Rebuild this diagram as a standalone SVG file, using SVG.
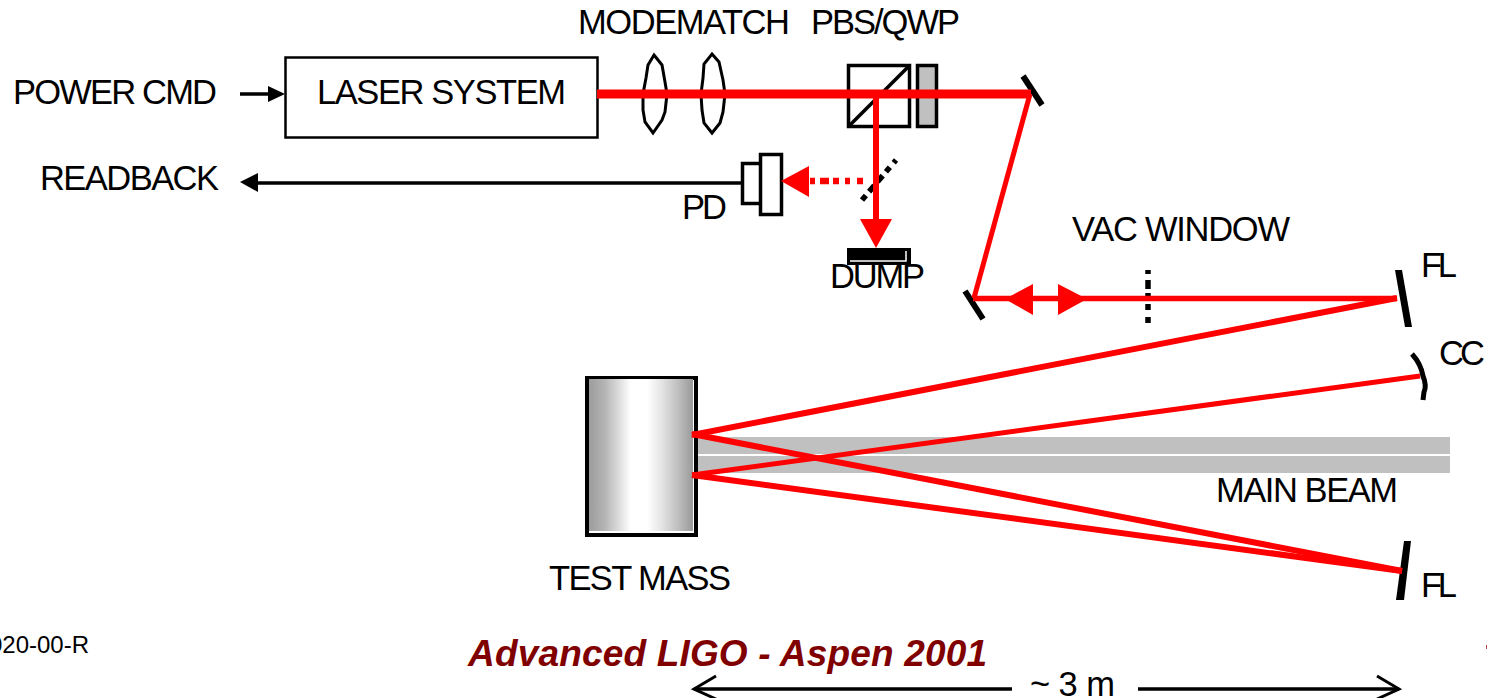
<svg xmlns="http://www.w3.org/2000/svg" width="1487" height="698" viewBox="0 0 1487 698">
<style>
text{font-family:"Liberation Sans",Arial,sans-serif;fill:#000;font-size:34.500px}
.box{fill:#fff;stroke:#000;stroke-width:3.500}
.blk{fill:none;stroke:#000}
.red{fill:none;stroke:#f00}
.rf{fill:#f00;stroke:none}
</style>
<defs>
<linearGradient id="tm" x1="0" x2="1" y1="0" y2="0">
<stop offset="0" stop-color="#9c9c9c"/><stop offset="0.15" stop-color="#b4b4b4"/><stop offset="0.3" stop-color="#e0e0e0"/><stop offset="0.4" stop-color="#fff"/><stop offset="0.56" stop-color="#fff"/><stop offset="0.7" stop-color="#e4e4e4"/><stop offset="0.85" stop-color="#c0c0c0"/><stop offset="1" stop-color="#9a9a9a"/>
</linearGradient>
</defs>
<rect width="1487" height="698" fill="#fff"/>
<g id="main-beam"><rect x="696" y="437" width="754" height="17" fill="#c0c0c0"/><rect x="696" y="456" width="754" height="17" fill="#c0c0c0"/></g>
<g id="test-mass"><rect x="587" y="378" width="109" height="157" fill="#fff" stroke="#000" stroke-width="4"/><rect x="589" y="379" width="104" height="152" fill="url(#tm)"/></g>
<g id="laser-system"><rect x="285.500" y="57.500" width="312" height="80" fill="#fff" stroke="#000" stroke-width="2.500"/></g>
<g id="lens-1"><path d="M654 55L662 65L665 82L667 94L665 112L662 120L653 133L645 122L643 110L643 94L646 78L648 65Z" fill="#fff" stroke="#000" stroke-width="3"/></g>
<g id="lens-2"><path d="M712 54L719 62L723 80L725 94L723 112L720 123L712 133L704 123L702 110L701 94L703 78L704 64Z" fill="#fff" stroke="#000" stroke-width="3"/></g>
<g id="pbs"><rect x="848.500" y="65.500" width="61" height="61" class="box"/><path d="M909 66L849 126" class="blk" stroke-width="3.500"/></g>
<g id="qwp"><rect x="917.500" y="65.500" width="19" height="61" fill="#c0c0c0" stroke="#000" stroke-width="3.500"/></g>
<g id="mirror-1"><path d="M1023 76L1042 105" class="blk" stroke-width="6"/></g>
<g id="mirror-2"><path d="M965 291L983 319" class="blk" stroke-width="6"/></g>
<g id="pd"><rect x="742.500" y="163.500" width="21" height="40" class="box"/><rect x="760.500" y="154.500" width="21" height="60" class="box"/></g>
<g id="pickoff"><path d="M862 200L896 160" class="blk" stroke-width="5.500" stroke-dasharray="6 5 8 5 8 5 6 6 5"/></g>
<g id="dump"><rect x="847" y="248" width="64" height="17" fill="#000"/><path d="M850 261H906V251" fill="none" stroke="#fff" stroke-width="1.500"/></g>
<g id="vac-window"><path d="M1148 270V323" class="blk" stroke-width="5.500" stroke-dasharray="4 6 9 4 6 5 6 7 6"/></g>
<g id="fl-upper"><path d="M1395 270H1402L1412 327H1405Z" fill="#000"/></g>
<g id="cc"><path d="M1412 354Q1421 364 1423 376Q1427 386 1424 392L1423 400" class="blk" stroke-width="5"/></g>
<g id="fl-lower"><path d="M1404 541H1411L1404 600H1396Z" fill="#000"/></g>
<g id="connectors">
<path d="M240 94H270" class="blk" stroke-width="3.500"/><path d="M285 94L268 86V102Z" fill="#000"/>
<path d="M741 183H255" class="blk" stroke-width="3.500"/><path d="M240 182L258 173V192Z" fill="#000"/>
<path d="M597 94H1031" class="red" stroke-width="9"/>
<path d="M1030 94L974 298" class="red" stroke-width="5"/>
<path d="M973 298.500H1397" class="red" stroke-width="5.500"/>
<path d="M1005 299L1033 284V315Z" class="rf"/><path d="M1087 299L1058 284V315Z" class="rf"/>
<path d="M876 98V222" class="red" stroke-width="6"/><path d="M876 248L860 219H892Z" class="rf"/>
<path d="M863 181H809" class="red" stroke-width="6.500" stroke-dasharray="6 7 5 6 6 4 9 5 5"/><path d="M781 181L809 166V197Z" class="rf"/>
<path d="M692 435L1397 298" class="red" stroke-width="6"/>
<path d="M692 475L1420 376" class="red" stroke-width="5"/>
<path d="M692 434L1402 571" class="red" stroke-width="6"/>
<path d="M692 475L1402 571" class="red" stroke-width="6"/>
<path d="M694 689H1012M1138 689H1399" class="blk" stroke-width="3.500"/>
<path d="M716 676L694 689L716 699M1377 676L1399 689L1377 699" class="blk" stroke-width="3"/>
</g>
<g id="labels">
<text x="13" y="104" textLength="204" lengthAdjust="spacing">POWER CMD</text>
<text x="317" y="104" textLength="249" lengthAdjust="spacing">LASER SYSTEM</text>
<text x="578" y="34" textLength="212" lengthAdjust="spacing">MODEMATCH</text>
<text x="811" y="34" textLength="149" lengthAdjust="spacing">PBS/QWP</text>
<text x="40" y="190" textLength="179" lengthAdjust="spacing">READBACK</text>
<text x="682" y="219" textLength="45" lengthAdjust="spacing">PD</text>
<text x="830" y="288" textLength="95" lengthAdjust="spacing">DUMP</text>
<text x="1072" y="241" textLength="218" lengthAdjust="spacing">VAC WINDOW</text>
<text x="1421" y="277" textLength="36" lengthAdjust="spacing">FL</text>
<text x="1439" y="365" textLength="46" lengthAdjust="spacing">CC</text>
<text x="1216" y="502" textLength="182" lengthAdjust="spacing">MAIN BEAM</text>
<text x="549" y="590" textLength="182" lengthAdjust="spacing">TEST MASS</text>
<text x="1421" y="597" textLength="36" lengthAdjust="spacing">FL</text>
<text x="89" y="653" text-anchor="end" style="font-size:24px">020-00-R</text>
<text x="468" y="666" textLength="519" lengthAdjust="spacing" style="font-size:37px;font-weight:bold;font-style:italic;fill:#800000">Advanced LIGO - Aspen 2001</text>
<text x="1030" y="696" textLength="85" lengthAdjust="spacing">~ 3 m</text>
</g>
<rect x="1486" y="645" width="1" height="4" fill="#b04040"/>
</svg>
